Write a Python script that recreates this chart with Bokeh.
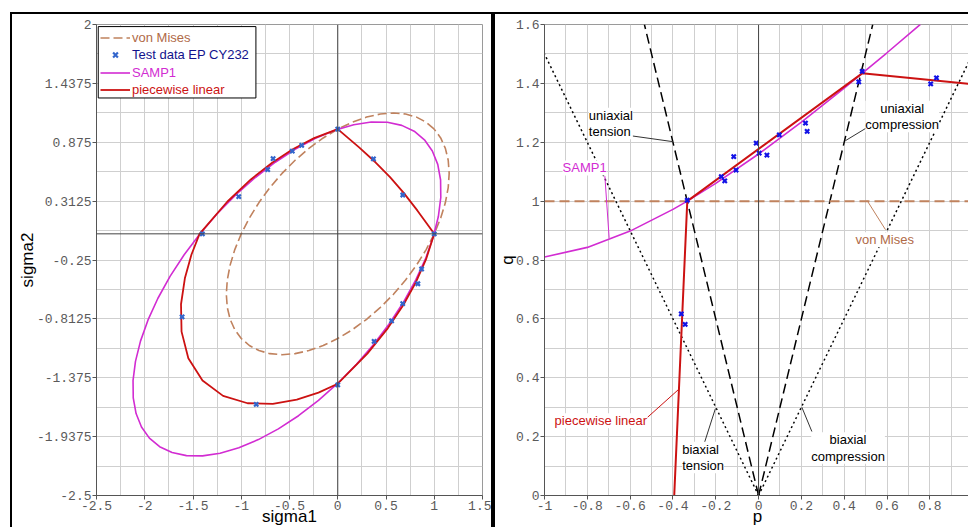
from bokeh.plotting import figure
from bokeh.layouts import row
from bokeh.models import (FixedTicker, CustomJSTickFormatter, Span, Label,
                          BoxAnnotation, Legend, LegendItem)
from bokeh.embed import file_html
from bokeh.resources import INLINE

# ---------------- data: left plot (sigma1, sigma2 plane) ----------------
vm_s1 = [1.0, 0.9161, 0.8165, 0.7029, 0.5773, 0.4419, 0.2988, 0.1507, 0.0, -0.1507, -0.2989, -0.4419,
         -0.5774, -0.7029, -0.8165, -0.9161, -1.0, -1.0668, -1.1154, -1.1448, -1.1547, -1.1448, -1.1153,
         -1.0668, -1.0, -0.9161, -0.8165, -0.7029, -0.5773, -0.4419, -0.2988, -0.1507, 0.0, 0.1507, 0.2989,
         0.4419, 0.5774, 0.7029, 0.8165, 0.9161, 1.0, 1.0668, 1.1154, 1.1448, 1.1547, 1.1448, 1.1153,
         1.0668, 1.0]
vm_s2 = [1.0, 1.0668, 1.1153, 1.1448, 1.1547, 1.1448, 1.1154, 1.0668, 1.0, 0.9161, 0.8165, 0.7029,
         0.5774, 0.4419, 0.2989, 0.1507, 0.0, -0.1507, -0.2988, -0.4419, -0.5773, -0.7029, -0.8165,
         -0.9161, -1.0, -1.0668, -1.1153, -1.1448, -1.1547, -1.1448, -1.1154, -1.0668, -1.0, -0.9161, -0.8165,
         -0.7029, -0.5774, -0.4419, -0.2989, -0.1507, 0.0, 0.1507, 0.2988, 0.4419, 0.5773, 0.7029, 0.8165,
         0.9161, 1.0]

samp_s1 = [0.8984, 0.7921, 0.6634, 0.5142, 0.3473, 0.1652, -0.0285, -0.2308, -0.4382, -0.6471, -0.854,
           -1.0552, -1.2473, -1.4272, -1.5916, -1.7379, -1.8635, -1.9660, -2.0441, -2.0961, -2.1213, -2.1192,
           -2.0899, -2.0338, -1.952, -1.8457, -1.7169, -1.5678, -1.4007, -1.2188, -1.0251, -0.8227, -0.6154,
           -0.4065, -0.1996, 0.0016, 0.1937, 0.3736, 0.538, 0.6843, 0.8099, 0.9124, 0.9905, 1.0425, 1.0677,
           1.0656, 1.0363, 0.9802, 0.8984]
samp_s2 = [0.8984, 0.9802, 1.0363, 1.0656, 1.0677, 1.0425, 0.9905, 0.9124, 0.8099, 0.6843, 0.538,
           0.3736, 0.1937, 0.0016, -0.1996, -0.4065, -0.6154, -0.8227, -1.0251, -1.2188, -1.4007, -1.5678,
           -1.7169, -1.8457, -1.952, -2.0338, -2.0899, -2.1192, -2.1213, -2.0961, -2.0441, -1.9660, -1.8635,
           -1.7379, -1.5916, -1.4272, -1.2473, -1.0552, -0.854, -0.6471, -0.4382, -0.2308, -0.0285, 0.1652,
           0.3473, 0.5142, 0.6634, 0.7921, 0.8984]

pw_s1 = [1.0, 0.8262, 0.6812, 0.5419, 0.3933, 0.2214, 0.0,
         -0.245, -0.4664, -0.6795, -0.9003, -1.1451, -1.432,
         -1.5166, -1.5842, -1.6242, -1.6186, -1.5484, -1.4016, -1.1881, -0.9345, -0.6728, -0.4245, -0.1996, 0.0,
         0.3068, 0.5198, 0.6795, 0.8078, 0.9145, 1.0]
pw_s2 = [0.0, 0.2214, 0.3933, 0.5419, 0.6812, 0.8262, 1.0,
         0.9145, 0.8078, 0.6795, 0.5198, 0.3068, 0.0,
         -0.1996, -0.4245, -0.6728, -0.9345, -1.1881, -1.4016, -1.5484, -1.6186, -1.6242, -1.5842, -1.5166, -1.432,
         -1.1451, -0.9003, -0.6795, -0.4664, -0.245, 0.0]

test_s1 = [0.0, 0.370, 0.674, 1.0, -0.374, -0.471, -0.670, -0.726, -1.026, -1.403, -1.613, -0.845,
           0.0, 0.377, 0.558, 0.673, 0.830, 0.869]
test_s2 = [1.0, 0.716, 0.371, 0.0, 0.845, 0.790, 0.719, 0.614, 0.355, 0.0, -0.794, -1.630,
           -1.443, -1.027, -0.832, -0.666, -0.477, -0.336]

# ---------------- data: right plot (p, q plane) ----------------
samp_p = [-1.0, -0.8, -0.6, -0.4, -0.333, -0.2, 0.0, 0.2, 0.4, 0.6, 0.756]
samp_q = [0.810, 0.8428, 0.8981, 0.9719, 1.0, 1.0603, 1.1602, 1.2687, 1.3838, 1.5040, 1.6006]
pw_p = [-0.394, -0.333, 0.484, 1.0]
pw_q = [0.0, 1.0, 1.434, 1.397]
vm_p = [-1.0, 1.0]
vm_q = [1.0, 1.0]
ut_p = [0.0, -0.5333]
ut_q = [0.0, 1.6]
uc_p = [0.0, 0.5333]
uc_q = [0.0, 1.6]
bt_p = [0.0, -1.0]
bt_q = [0.0, 1.5]
bc_p = [0.0, 1.0]
bc_q = [0.0, 1.5]
test_p = [-0.333, -0.174, -0.158, -0.105, -0.116, -0.011, 0.003, 0.039, 0.097, 0.219, 0.227,
          0.484, 0.468, 0.831, 0.804, -0.361, -0.343]
test_q = [1.003, 1.083, 1.069, 1.105, 1.151, 1.197, 1.163, 1.156, 1.225, 1.265, 1.237,
          1.441, 1.405, 1.419, 1.398, 0.617, 0.581]

# ---------------- ticks ----------------
l_xticks = [-2.5, -2.0, -1.5, -1.0, -0.5, 0.0, 0.5, 1.0, 1.5]
l_xminor = [-2.25, -1.75, -1.25, -0.75, -0.25, 0.25, 0.75, 1.25]
l_yticks = [2.0, 1.4375, 0.875, 0.3125, -0.25, -0.8125, -1.375, -1.9375, -2.5]
l_yminor = [1.71875, 1.15625, 0.59375, 0.03125, -0.53125, -1.09375, -1.65625, -2.21875]
r_xticks = [-1.0, -0.8, -0.6, -0.4, -0.2, 0.0, 0.2, 0.4, 0.6, 0.8, 1.0]
r_xminor = [-0.9, -0.7, -0.5, -0.3, -0.1, 0.1, 0.3, 0.5, 0.7, 0.9]
r_yticks = [0.0, 0.2, 0.4, 0.6, 0.8, 1.0, 1.2, 1.4, 1.6]
r_yminor = [0.1, 0.3, 0.5, 0.7, 0.9, 1.1, 1.3, 1.5]

# ---------------- styles ----------------
BROWN = "#c0825e"
BROWN_T = "#b06a48"
MAG = "#d22cd2"
RED = "#cc1212"
BLUE_L = "#3366cc"
BLUE_R = "#1212e6"
NAVY = "#12128c"
SANS = "Liberation Sans"
MONO = "Liberation Mono"
GRID = "#cfcfcf"
AX = "#555555"

fmt = CustomJSTickFormatter(code="return tick.toString();")


def style(p, xt, xm, yt, ym, xlabel, ylabel):
    p.xaxis.ticker = FixedTicker(ticks=xt, minor_ticks=xm)
    p.yaxis.ticker = FixedTicker(ticks=yt, minor_ticks=ym)
    p.xaxis.formatter = fmt
    p.yaxis.formatter = fmt
    for ax in (p.xaxis[0], p.yaxis[0]):
        ax.major_label_text_font = MONO
        ax.major_label_text_font_size = "13px"
        ax.major_label_text_color = "#5a5a5a"
        ax.major_label_standoff = 1
        ax.major_tick_out = 4
        ax.major_tick_in = 0
        ax.minor_tick_line_color = None
        ax.axis_line_color = AX
        ax.major_tick_line_color = AX
        ax.axis_label_text_font = SANS
        ax.axis_label_text_font_size = "17px"
        ax.axis_label_text_font_style = "normal"
        ax.axis_label_text_color = "black"
    p.xaxis.axis_label = xlabel
    p.yaxis.axis_label = ylabel
    p.xaxis.axis_label_standoff = -6
    for g in (p.xgrid[0], p.ygrid[0]):
        g.grid_line_color = GRID
        g.minor_grid_line_color = GRID
    p.outline_line_color = "#9a9a9a"
    p.background_fill_color = "white"
    p.border_fill_color = "white"


# ======================= left figure =======================
p1 = figure(width=483, height=515, x_range=(-2.5, 1.5), y_range=(-2.5, 2.0),
            output_backend="svg", toolbar_location=None,
            min_border_left=84, min_border_right=13, min_border_top=10, min_border_bottom=34,
            margin=(12, 0, 0, 10),
            styles={"border-top": "2px solid black", "border-left": "2px solid black",
                    "border-right": "2px solid black"})
style(p1, l_xticks, l_xminor, l_yticks, l_yminor, "sigma1", "sigma2")
p1.yaxis.axis_label_standoff = -3
p1.add_layout(Span(location=0, dimension="height", line_color="#444444", line_width=1))
p1.add_layout(Span(location=0, dimension="width", line_color="#444444", line_width=1))

r_vm = p1.line(vm_s1, vm_s2, line_color=BROWN, line_width=1.6, line_dash="9 4")
r_samp = p1.line(samp_s1, samp_s2, line_color=MAG, line_width=1.6)
r_pw = p1.line(pw_s1, pw_s2, line_color=RED, line_width=1.8)
r_test = p1.scatter(test_s1, test_s2, marker="x", size=6, line_width=2.2, line_color=BLUE_L)

p1.add_layout(BoxAnnotation(left=-2.482, right=-0.848, top=1.98, bottom=1.298,
                            fill_color="white", fill_alpha=1.0, line_color="black",
                            line_width=1, line_alpha=1.0))
rows = [("von Mises", r_vm, BROWN_T), ("Test data EP CY232", r_test, NAVY),
        ("SAMP1", r_samp, MAG), ("piecewise linear", r_pw, RED)]
row_bottoms = [449.5, 432.0, 414.5, 397.0]
for (lab, rend, col), yb in zip(rows, row_bottoms):
    leg = Legend(items=[LegendItem(label=lab, renderers=[rend])], location=(4, yb),
                 padding=0, margin=0, spacing=0, glyph_width=30, glyph_height=17,
                 label_height=17, label_standoff=2, label_text_font=SANS,
                 label_text_font_size="13px", label_text_color=col,
                 border_line_alpha=0, background_fill_alpha=0)
    p1.add_layout(leg)

# ======================= right figure =======================
p2 = figure(width=475, height=515, x_range=(-1.0, 0.99), y_range=(0.0, 1.6),
            output_backend="svg", toolbar_location=None,
            min_border_left=49, min_border_right=0, min_border_top=10, min_border_bottom=34,
            margin=(12, 0, 0, 0),
            styles={"border-top": "2px solid black", "border-left": "2px solid black"})
style(p2, r_xticks, r_xminor, r_yticks, r_yminor, "p", "q")
p2.yaxis.axis_label_standoff = -4
p2.add_layout(Span(location=0, dimension="height", line_color="#444444", line_width=1))

p2.line(bt_p, bt_q, line_color="black", line_width=1.5, line_dash="2 3")
p2.line(bc_p, bc_q, line_color="black", line_width=1.5, line_dash="2 3")
p2.line(ut_p, ut_q, line_color="black", line_width=1.5, line_dash="10 5")
p2.line(uc_p, uc_q, line_color="black", line_width=1.5, line_dash="10 5")
p2.line(vm_p, vm_q, line_color=BROWN, line_width=2, line_dash="10 5")
p2.line(samp_p, samp_q, line_color=MAG, line_width=1.6)
p2.line(pw_p, pw_q, line_color=RED, line_width=2)
p2.scatter(test_p, test_q, marker="x", size=6, line_width=2.2, line_color=BLUE_R)

# leader lines for the annotations
leaders = [(-0.596, 1.222, -0.400, 1.202, "#333333"),
           (-0.718, 1.085, -0.698, 0.875, MAG),
           (0.507, 1.250, 0.405, 1.205, "#333333"),
           (0.593, 0.903, 0.507, 1.002, BROWN),
           (-0.518, 0.266, -0.3695, 0.363, RED),
           (-0.252, 0.181, -0.202, 0.2946, "#333333"),
           (0.249, 0.2174, 0.202, 0.300, "#333333")]
for x0, y0, x1, y1, c in leaders:
    p2.segment(x0=[x0], y0=[y0], x1=[x1], y1=[y1], line_color=c, line_width=1)

notes = [("uniaxial\ntension", -0.793, 1.317, "left", "top", "black"),
         ("uniaxial\ncompression", 0.671, 1.341, "center", "top", "black"),
         ("biaxial\ntension", -0.357, 0.1826, "left", "top", "black"),
         ("biaxial\ncompression", 0.418, 0.215, "center", "top", "black"),
         ("SAMP1", -0.9155, 1.1126, "left", "middle", MAG),
         ("von Mises", 0.589, 0.8686, "center", "middle", BROWN_T),
         ("piecewise linear", -0.953, 0.254, "left", "middle", RED)]
for txt, x, y, al, bl, c in notes:
    p2.add_layout(Label(x=x, y=y, text=txt, text_align=al, text_baseline=bl,
                        text_font=SANS, text_font_size="13px", text_color=c,
                        text_line_height=1.1, background_fill_color="white",
                        background_fill_alpha=1.0))

layout = row(p1, p2)
open("out.html", "w").write(file_html(layout, INLINE))
